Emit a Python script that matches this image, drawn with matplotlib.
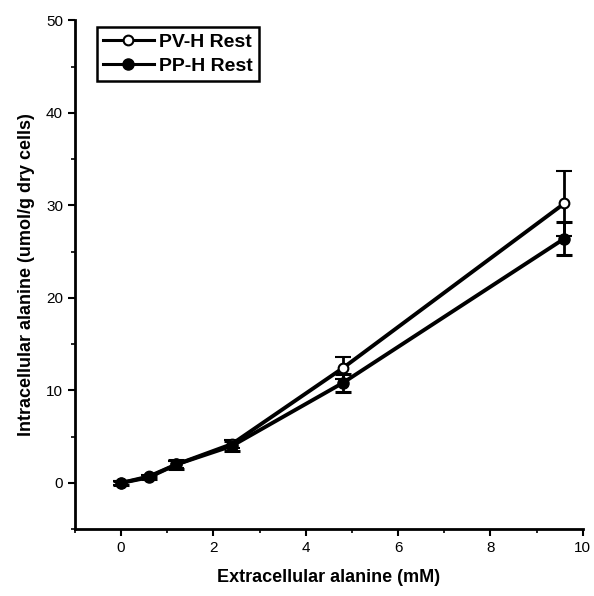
import matplotlib
matplotlib.use("Agg")
import matplotlib.pyplot as plt
from matplotlib.lines import Line2D
from matplotlib.ticker import MultipleLocator

plt.rcParams["font.family"] = ["Liberation Sans", "DejaVu Sans"]

# Данные
x_conc = [0.0, 0.6, 1.2, 2.4, 4.8, 9.6]
pv_rest = [0.0, 0.7, 2.0, 4.2, 12.4, 30.2]
pv_err = [0.2, 0.2, 0.4, 0.4, 1.2, 3.5]
pp_rest = [0.0, 0.6, 2.0, 4.0, 10.8, 26.4]
pp_err = [0.2, 0.2, 0.5, 0.5, 1.0, 1.8]

fig = plt.figure(figsize=(5.94, 5.96), dpi=100)
ax = fig.add_axes([0.126, 0.112, 0.855, 0.854])

ax.errorbar(x_conc, pv_rest, yerr=pv_err, color="black", lw=2.8,
            marker="o", ms=7, mfc="white", mec="black", mew=1.5,
            capsize=6, capthick=2.2, elinewidth=2)
ax.errorbar(x_conc, pp_rest, yerr=pp_err, color="black", lw=2.8,
            marker="o", ms=8, mfc="black", mec="black",
            capsize=6, capthick=2.2, elinewidth=2)

ax.set_xlim(-1, 10)
ax.set_ylim(-5, 50)
ax.xaxis.set_major_locator(MultipleLocator(2))
ax.xaxis.set_minor_locator(MultipleLocator(1))
ax.yaxis.set_major_locator(MultipleLocator(10))
ax.yaxis.set_minor_locator(MultipleLocator(5))
ax.tick_params(which="major", direction="out", length=5, width=1.5, labelsize=11)
ax.tick_params(which="minor", direction="out", length=3, width=1.2)

ax.spines["top"].set_visible(False)
ax.spines["right"].set_visible(False)
ax.spines["left"].set_linewidth(2)
ax.spines["bottom"].set_linewidth(2)

ax.set_xlabel("Extracellular alanine (mM)", fontsize=13, fontweight="bold", labelpad=10)
ax.set_ylabel("Intracellular alanine (umol/g dry cells)", fontsize=13, fontweight="bold", labelpad=8)

handles = [
    Line2D([], [], color="black", lw=2.2, marker="o", ms=7, mfc="white", mec="black", mew=1.5),
    Line2D([], [], color="black", lw=2.2, marker="o", ms=8, mfc="black", mec="black"),
]
leg = ax.legend(handles, ["PV-H Rest", "PP-H Rest"], loc="upper left",
                bbox_to_anchor=(0.025, 1.005),
                prop={"weight": "bold", "size": 14}, fancybox=False,
                edgecolor="black", framealpha=1, handlelength=2.6,
                handletextpad=0.3, borderpad=0.3, labelspacing=0.35)
leg.get_frame().set_linewidth(1.8)

fig.savefig("out.png", dpi=100)
